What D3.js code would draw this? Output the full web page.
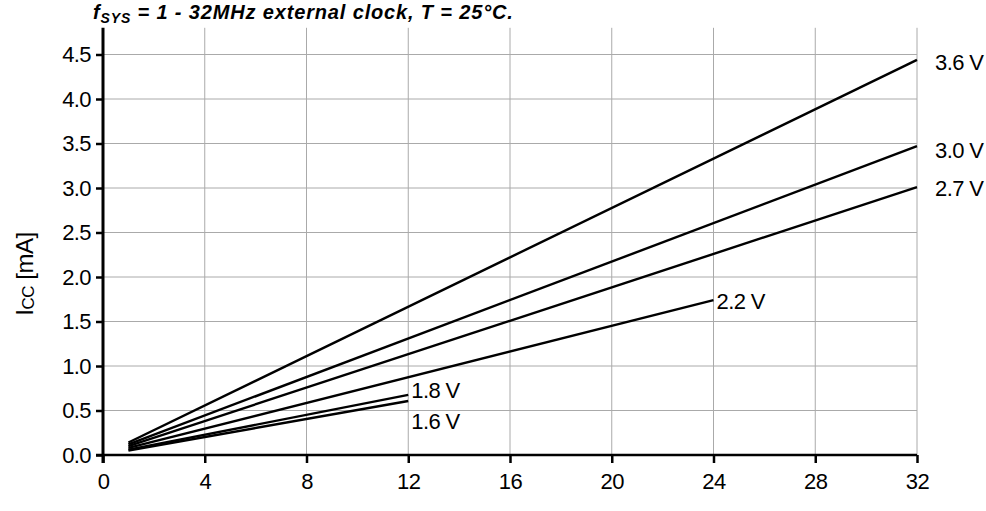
<!DOCTYPE html>
<html><head><meta charset="utf-8">
<script src="https://cdn.jsdelivr.net/npm/d3@7"></script>
<style>
body{margin:0;background:#fff;}
svg{display:block;font-family:"Liberation Sans",Arial,sans-serif;}
</style></head>
<body>
<svg id="c" width="986" height="511"></svg>
<script>
// Data
const xTicks = [0, 4, 8, 12, 16, 20, 24, 28, 32];
const yTicks = [0, 0.5, 1.0, 1.5, 2.0, 2.5, 3.0, 3.5, 4.0, 4.5];
const seriesNames = ["3.6 V", "3.0 V", "2.7 V", "2.2 V", "1.8 V", "1.6 V"];
const fStart = [1, 1, 1, 1, 1, 1];
const fEnd = [32, 32, 32, 24, 12, 12];
const iccStart = [0.14, 0.12, 0.10, 0.08, 0.06, 0.05];
const iccEnd = [4.44, 3.47, 3.01, 1.74, 0.675, 0.607];
// label offsets (layout only)
const labelDy = [4, 6, 3, 3, -3, 22];

const svg = d3.select("#c");
const x = d3.scaleLinear().domain([0, 32]).range([103, 917]);
const y = d3.scaleLinear().domain([0, 4.5]).range([455, 54.5]);
const yTop = y(4.8);
const FS = 22;

// grid
svg.append("g").selectAll("line.v").data(xTicks.filter(d => d > 0)).join("line")
  .attr("x1", d => x(d)).attr("x2", d => x(d)).attr("y1", yTop).attr("y2", y(0))
  .attr("stroke", "#aaa").attr("stroke-width", 1);
svg.append("g").selectAll("line.h").data(yTicks.filter(d => d > 0)).join("line")
  .attr("x1", x(0)).attr("x2", x(32)).attr("y1", d => y(d)).attr("y2", d => y(d))
  .attr("stroke", "#aaa").attr("stroke-width", 1);

// axes
const xAxis = d3.axisBottom(x).tickValues(xTicks).tickFormat(d3.format("d")).tickSize(8).tickPadding(10);
const gx = svg.append("g").attr("transform", `translate(0,${y(0)})`).call(xAxis);
gx.select(".domain").remove();
gx.append("line").attr("x1", x(0) - 7).attr("x2", x(32)).attr("y1", 0).attr("y2", 0)
  .attr("stroke", "#000").attr("stroke-width", 2.5);
gx.selectAll(".tick line").attr("stroke-width", 2.5).attr("stroke", "#000");
gx.selectAll("text").attr("font-size", FS).attr("letter-spacing", "-0.6px").attr("fill", "#000")
  .attr("font-family", "Liberation Sans, Arial, sans-serif");

const yAxis = d3.axisLeft(y).tickValues(yTicks).tickFormat(d3.format(".1f")).tickSize(7).tickPadding(5);
const gy = svg.append("g").attr("transform", `translate(${x(0)},0)`).call(yAxis);
gy.select(".domain").remove();
gy.append("line").attr("x1", 0).attr("x2", 0).attr("y1", yTop).attr("y2", y(0) + 8)
  .attr("stroke", "#000").attr("stroke-width", 3);
gy.selectAll(".tick line").attr("stroke-width", 2.5).attr("stroke", "#000");
gy.selectAll("text").attr("font-size", FS).attr("letter-spacing", "-0.6px").attr("fill", "#000")
  .attr("font-family", "Liberation Sans, Arial, sans-serif");

// series
const line = d3.line().x(d => x(d[0])).y(d => y(d[1]));
seriesNames.forEach((name, i) => {
  const pts = [[fStart[i], iccStart[i]], [fEnd[i], iccEnd[i]]];
  svg.append("path").attr("d", line(pts)).attr("fill", "none")
    .attr("stroke", "#000").attr("stroke-width", 2.4);
  svg.append("text").attr("x", x(fEnd[i]) + (fEnd[i] === 32 ? 18 : 3))
    .attr("y", y(iccEnd[i]) + labelDy[i] + 6)
    .attr("font-size", FS).attr("letter-spacing", "-0.6px").attr("fill", "#000").text(name);
});

// title
const t = svg.append("text").attr("x", 93).attr("y", 19)
  .attr("font-size", 20).attr("font-weight", "bold").attr("font-style", "italic").attr("letter-spacing", "0.85px");
t.append("tspan").text("f");
t.append("tspan").attr("font-size", 14).attr("dy", 4).text("SYS");
t.append("tspan").attr("dy", -4).text(" = 1 - 32MHz external clock, T = 25°C.");

// y label
const yl = svg.append("text").attr("transform", `translate(33,${274}) rotate(-90)`)
  .attr("text-anchor", "middle").attr("font-size", 24).attr("letter-spacing", "-0.5px");
yl.append("tspan").text("I");
yl.append("tspan").attr("font-size", 17).attr("dy", 1).text("CC");
yl.append("tspan").attr("dy", -1).text(" [mA]");
</script>
</body></html>
